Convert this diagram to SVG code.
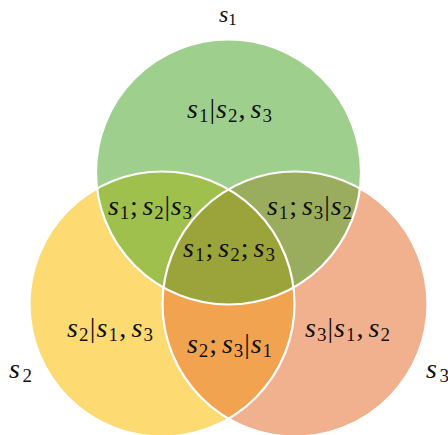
<svg xmlns="http://www.w3.org/2000/svg" width="448" height="435" viewBox="0 0 448 435">
<style>
  text { font-family: 'Liberation Serif', 'Times New Roman', serif; font-size: 28px; fill: #111; }
  .i { font-style: italic; }
  .sub { font-size: 19px; font-style: normal; }
  .edge { fill: none; stroke: #ffffff; stroke-width: 2.2; }
</style>
<defs>
  <clipPath id="clipA"><circle cx="228.5" cy="172" r="132.5"/></clipPath>
  <clipPath id="clipB"><circle cx="162" cy="304" r="132.5"/></clipPath>
</defs>
<rect width="448" height="435" fill="#ffffff"/>
<g id="s1">
  <circle cx="228.5" cy="172" r="132.5" fill="#9fcf8d"/>
</g>
<g id="s2">
  <circle cx="162" cy="304" r="132.5" fill="#fdda72"/>
</g>
<g id="s3">
  <circle cx="295" cy="304" r="132.5" fill="#f1b08e"/>
</g>
<g id="s1s2" clip-path="url(#clipA)">
  <circle cx="162" cy="304" r="132.5" fill="#a0c04d"/>
</g>
<g id="s1s3" clip-path="url(#clipA)">
  <circle cx="295" cy="304" r="132.5" fill="#9aac5e"/>
</g>
<g id="s2s3" clip-path="url(#clipB)">
  <circle cx="295" cy="304" r="132.5" fill="#f1a34f"/>
</g>
<g id="s1s2s3" clip-path="url(#clipA)">
  <g clip-path="url(#clipB)">
    <circle cx="295" cy="304" r="132.5" fill="#9aa43b"/>
  </g>
</g>
<g id="connectors">
  <circle class="edge" cx="228.5" cy="172" r="132.5"/>
  <circle class="edge" cx="162" cy="304" r="132.5"/>
  <circle class="edge" cx="295" cy="304" r="132.5"/>
</g>
<g id="labels">
  <text x="219" y="22" style="font-size:24px"><tspan class="i">s</tspan><tspan class="sub" dy="3" style="font-size:17px">1</tspan></text>
  <text x="9" y="378" textLength="23" lengthAdjust="spacing"><tspan class="i">s</tspan><tspan class="sub" dy="4">2</tspan></text>
  <text x="426" y="378" textLength="23" lengthAdjust="spacing"><tspan class="i">s</tspan><tspan class="sub" dy="4">3</tspan></text>

  <text x="187" y="118" textLength="85" lengthAdjust="spacing"><tspan class="i">s</tspan><tspan class="sub" dy="4">1</tspan><tspan dy="-4">|</tspan><tspan class="i">s</tspan><tspan class="sub" dy="4">2</tspan><tspan dy="-4">,</tspan><tspan class="i" dx="4">s</tspan><tspan class="sub" dy="4">3</tspan></text>

  <text x="108" y="215" textLength="84" lengthAdjust="spacing"><tspan class="i">s</tspan><tspan class="sub" dy="4">1</tspan><tspan dy="-4">;</tspan><tspan class="i" dx="4">s</tspan><tspan class="sub" dy="4">2</tspan><tspan dy="-4">|</tspan><tspan class="i">s</tspan><tspan class="sub" dy="4">3</tspan></text>

  <text x="267" y="215" textLength="85" lengthAdjust="spacing"><tspan class="i">s</tspan><tspan class="sub" dy="4">1</tspan><tspan dy="-4">;</tspan><tspan class="i" dx="4">s</tspan><tspan class="sub" dy="4">3</tspan><tspan dy="-4">|</tspan><tspan class="i">s</tspan><tspan class="sub" dy="4">2</tspan></text>

  <text x="183" y="257" textLength="92" lengthAdjust="spacing"><tspan class="i">s</tspan><tspan class="sub" dy="4">1</tspan><tspan dy="-4">;</tspan><tspan class="i" dx="4">s</tspan><tspan class="sub" dy="4">2</tspan><tspan dy="-4">;</tspan><tspan class="i" dx="4">s</tspan><tspan class="sub" dy="4">3</tspan></text>

  <text x="67" y="337" textLength="86" lengthAdjust="spacing"><tspan class="i">s</tspan><tspan class="sub" dy="4">2</tspan><tspan dy="-4">|</tspan><tspan class="i">s</tspan><tspan class="sub" dy="4">1</tspan><tspan dy="-4">,</tspan><tspan class="i" dx="4">s</tspan><tspan class="sub" dy="4">3</tspan></text>

  <text x="305" y="337" textLength="85" lengthAdjust="spacing"><tspan class="i">s</tspan><tspan class="sub" dy="4">3</tspan><tspan dy="-4">|</tspan><tspan class="i">s</tspan><tspan class="sub" dy="4">1</tspan><tspan dy="-4">,</tspan><tspan class="i" dx="4">s</tspan><tspan class="sub" dy="4">2</tspan></text>

  <text x="187" y="353" textLength="85" lengthAdjust="spacing"><tspan class="i">s</tspan><tspan class="sub" dy="4">2</tspan><tspan dy="-4">;</tspan><tspan class="i" dx="4">s</tspan><tspan class="sub" dy="4">3</tspan><tspan dy="-4">|</tspan><tspan class="i">s</tspan><tspan class="sub" dy="4">1</tspan></text>
</g>
</svg>
